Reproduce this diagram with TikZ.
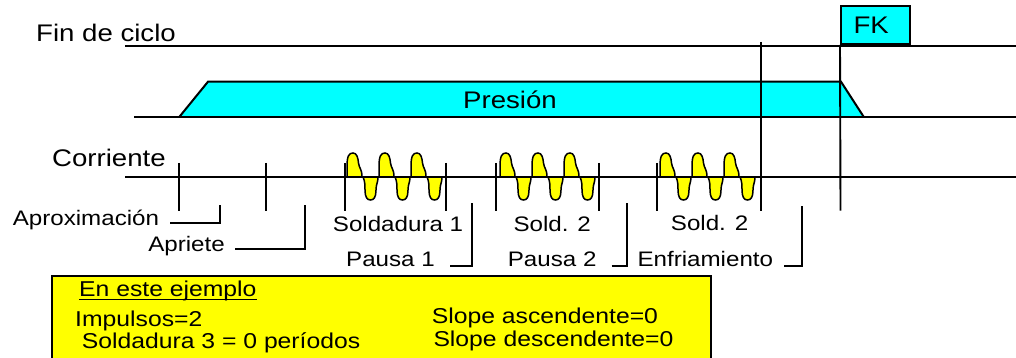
\documentclass[tikz,border=0pt]{standalone}
\usepackage{fontspec}
\setmainfont[FakeStretch=1.15]{Liberation Sans}
\usepackage{tikz}

\definecolor{aqua}{RGB}{0,255,255}
\definecolor{lemon}{RGB}{255,255,0}

\tikzset{
  big/.style={font=\fontsize{24}{28}\selectfont,inner sep=0pt},
  lbl/.style={font=\fontsize{21}{25}\selectfont,inner sep=0pt},
  note/.style={font=\fontsize{21.5}{25}\selectfont,inner sep=0pt},
  sig/.style={line width=2pt},
  tickline/.style={line width=1.9pt},
  lobe/.style={fill=lemon,draw=black,line width=1.5pt}
}

\begin{document}
\begin{tikzpicture}[x=1pt,y=-1pt]
  \useasboundingbox (0,0) rectangle (1016,358);
  % signal lines
  \node[big,anchor=base west] (fin) at (36,41.7) {Fin de ciclo};
  \draw [sig] (125,45.7) -- (1016,45.7);
  \node[big,draw,fill=aqua,line width=1.8pt,minimum width=69pt,minimum height=38pt,anchor=south west] (fk) at (840,45) {};
  \node[big,anchor=base west] at (853.3,33.3) {FK};
  \draw [sig,fill=aqua] (179,117.3) -- (208,81.7) -- (841,81.7) -- (864,117.3);
  \draw [sig] (134,117.3) -- (1016,117.3);
  \node[big,anchor=base] (pres) at (510,108.3) {Presión};
  \node[big,anchor=base west] (corr) at (52,166.7) {Corriente};
  \draw [sig] (125,177) -- (1016,177);
  % weld pulses
  \foreach \s in {347,500,660}{
    \foreach \k in {0,1,2}{
      \pgfmathsetmacro\a{\s+32*\k}
      \pgfmathsetmacro\b{\a+16}
      \filldraw [lobe] (\a,177) -- (\a,166) .. controls (\a,156) and (\a+2,153) .. (\a+6,153)
        .. controls (\a+10,153) and (\a+11,158) .. (\a+11.5,163)
        .. controls (\a+12,168) and (\a+15,169) .. (\a+15,177) -- cycle;
      \filldraw [lobe] (\b,177) .. controls (\b+2,181) and (\b+2,186) .. (\b+2,190)
        .. controls (\b+2,197) and (\b+4,200) .. (\b+7.5,200)
        .. controls (\b+11,200) and (\b+13,197) .. (\b+13,190)
        .. controls (\b+13,184) and (\b+15,183) .. (\b+15,177) -- cycle;
    }
  }
  % ticks
  \foreach \x in {179,265.7,345,445.7,495.7,599.3,656.7}
    \draw [tickline] (\x,163) -- (\x,210.5);
  \draw [tickline] (760.7,42) -- (760.7,210.7);
  \draw [tickline] (fk.south west) -- (840.5,210.7);
  % phase labels
  \node[lbl,anchor=base west] (sold1) at (332.7,231.7) {Soldadura 1};
  \node[lbl,anchor=base west] (sold2) at (513.3,231) {Sold. 2};
  \node[lbl,anchor=base west] (sold3) at (670.7,230) {Sold. 2};
  \coordinate (aproxT) at (220,205);
  \coordinate (aprieT) at (305,205);
  \coordinate (pau1T) at (471.7,203.3);
  \coordinate (pau2T) at (627.3,203.3);
  \coordinate (enfT) at (802.3,206);
  \node[lbl,anchor=base east] (aprox) at (159.3,225) {Aproximación};
  \node[lbl,anchor=base east] (aprie) at (225,251.7) {Apriete};
  \node[lbl,anchor=base east] (pau1) at (435,266) {Pausa 1};
  \node[lbl,anchor=base east] (pau2) at (596.7,266) {Pausa 2};
  \node[lbl,anchor=base east] (enf) at (773.3,266.7) {Enfriamiento};
  \draw [tickline] ([xshift=10.7pt,yshift=2pt]aprox.base east) -| (aproxT);
  \draw [tickline] ([xshift=10pt,yshift=2.4pt]aprie.base east) -| (aprieT);
  \draw [tickline] ([xshift=15pt]pau1.base east) -| (pau1T);
  \draw [tickline] ([xshift=15pt]pau2.base east) -| (pau2T);
  \draw [tickline] ([xshift=10.7pt,yshift=1pt]enf.base east) -| (enfT);
  % example box
  \fill [lemon] (52.3,275.7) rectangle (711,358);
  \draw [line width=1.8pt] (52.3,358) |- (711,275.7) -- (711,358);
  \node[note,anchor=base west] (ej) at (79,296.7) {En este ejemplo};
  \draw [line width=1.2pt] ([yshift=-2.5pt]ej.base west) -- ([yshift=-2.5pt]ej.base east);
  \node[note,anchor=base west] (imp) at (75,326.7) {Impulsos=2};
  \node[note,anchor=base west] (s3) at (81.7,348.3) {Soldadura 3 = 0 períodos};
  \node[note,anchor=base west] (sa) at (431.7,323.3) {Slope ascendente=0};
  \node[note,anchor=base west] (sd) at (433.3,346.7) {Slope descendente=0};
\end{tikzpicture}
\end{document}
